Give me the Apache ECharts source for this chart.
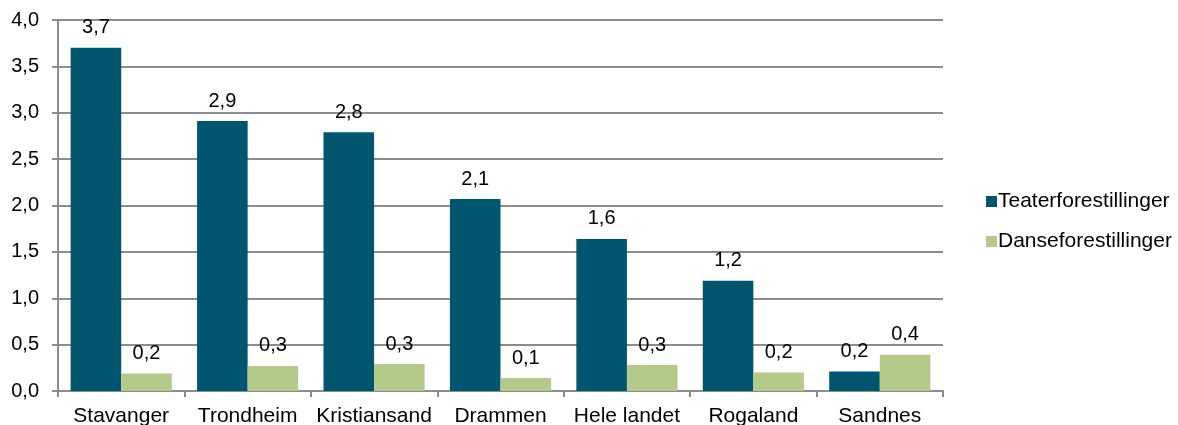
<!DOCTYPE html>
<html><head><meta charset="utf-8">
<script src="https://cdn.jsdelivr.net/npm/echarts@6/dist/echarts.min.js"></script>
<style>html,body{margin:0;padding:0;background:#fff}#c{width:1178px;height:425px}</style>
</head><body><div id="c"></div>
<script>
const categories = ['Stavanger','Trondheim','Kristiansand','Drammen','Hele landet','Rogaland','Sandnes'];
const teater = [3.7, 2.91, 2.79, 2.07, 1.64, 1.19, 0.21];
const danse = [0.19, 0.27, 0.29, 0.14, 0.28, 0.2, 0.39];
const yTicks = [0, 0.5, 1, 1.5, 2, 2.5, 3, 3.5, 4];
const fmt = v => v.toFixed(1).replace('.', ',');
const font = '"Liberation Sans", Arial, sans-serif';
const chart = echarts.init(document.getElementById('c'));
const lbl = {show:true, position:'top', distance:10, fontFamily:font, fontSize:20, color:'#000', formatter:p=>fmt(p.value)};
chart.setOption({
  animation:false,
  grid:{left:58, right:235, top:20, bottom:34, containLabel:false, outerBoundsMode:'none'},
  legend:{orient:'vertical', left:981, top:186, itemGap:19, itemWidth:11, itemHeight:11, icon:'rect',
    textStyle:{fontFamily:font, fontSize:21, color:'#000', padding:[0,0,0,-4]}},
  xAxis:{type:'category', data:categories,
    axisLine:{lineStyle:{color:'#8c8c8c', width:2}},
    axisTick:{show:true, length:6, lineStyle:{color:'#8c8c8c', width:2}, alignWithLabel:false},
    axisLabel:{fontFamily:font, fontSize:21, color:'#000', margin:15, interval:0}},
  yAxis:{type:'value', min:yTicks[0], max:yTicks[yTicks.length-1], interval:0.5,
    axisLine:{show:true, lineStyle:{color:'#8c8c8c', width:2}},
    axisTick:{show:true, length:6, inside:false, lineStyle:{color:'#8c8c8c', width:2}},
    splitLine:{lineStyle:{color:'#8c8c8c', width:2}},
    axisLabel:{fontFamily:font, fontSize:20, color:'#000', margin:19, formatter:v=>fmt(v)}},
  series:[
    {name:'Teaterforestillinger', type:'bar', data:teater, barGap:'0%', barCategoryGap:'20%',
      itemStyle:{color:'#00566e'}, label:lbl},
    {name:'Danseforestillinger', type:'bar', data:danse,
      itemStyle:{color:'#b3ca8b'}, label:lbl}
  ]
});
</script></body></html>
